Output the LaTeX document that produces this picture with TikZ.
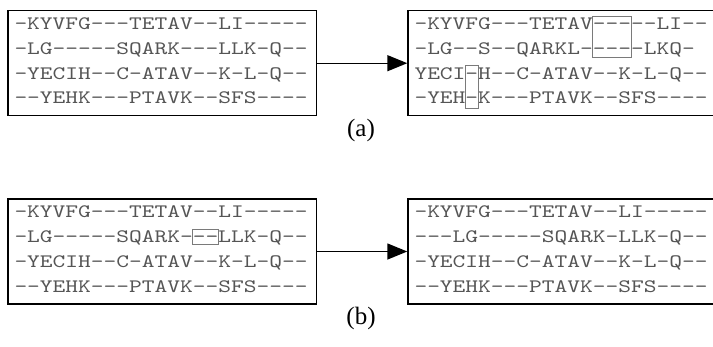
\documentclass[tikz,border=0pt]{standalone}
\usepackage{fontspec}
\usetikzlibrary{calc,arrows.meta}
\newfontfamily\capfont{Liberation Serif}
\newfontfamily\seqfont[Extension=.otf,FakeStretch=1.278]{lmmono10-regular}
\definecolor{seqgray}{HTML}{555555}
\definecolor{markgray}{HTML}{7A7A7A}
\newcommand{\cw}{12.75}
\newcommand{\rowsep}{24.8}

\tikzset{
  seqbox/.style={draw,rectangle,line width=1.4pt,anchor=north west,minimum width=308.7pt,minimum height=105pt,inner sep=0pt},
  seqrow/.style={anchor=base west,inner sep=0pt,text=seqgray,font=\seqfont\fontsize{19}{24.8}\selectfont},
  markbox/.style={draw=markgray,line width=0.8pt},
  flow/.style={-{Triangle[length=20pt,width=16pt]},line width=1.4pt},
  caption/.style={font=\capfont\fontsize{25}{28}\selectfont}
}

\begin{document}
\begin{tikzpicture}[x=1pt,y=-1pt]
\useasboundingbox (0,0) rectangle (713,346);

% (a)
\node[seqbox] (a1) at (7.3,10) {};
\node[seqrow] (a1r1) at ($(a1.north west)+(7,19.5)$) {-KYVFG---TETAV--LI-----};
\node[seqrow] (a1r2) at ($(a1r1.base west)+(0,\rowsep)$) {-LG-----SQARK---LLK-Q--};
\node[seqrow] (a1r3) at ($(a1r2.base west)+(0,\rowsep)$) {-YECIH--C-ATAV--K-L-Q--};
\node[seqrow] (a1r4) at ($(a1r3.base west)+(0,\rowsep)$) {--YEHK---PTAVK--SFS----};

\node[seqbox] (a2) at (407.3,10) {};
\node[seqrow] (a2r1) at ($(a2.north west)+(7,19.5)$) {-KYVFG---TETAV-----LI--};
\node[seqrow] (a2r2) at ($(a2r1.base west)+(0,\rowsep)$) {-LG--S--QARKL-----LKQ-};
\node[seqrow] (a2r3) at ($(a2r2.base west)+(0,\rowsep)$) {YECI-H--C-ATAV--K-L-Q--};
\node[seqrow] (a2r4) at ($(a2r3.base west)+(0,\rowsep)$) {-YEH-K---PTAVK--SFS----};
\draw[markbox] ($(a2r1.base west)+(14*\cw,-13.5)$) rectangle ($(a2r2.base west)+(17*\cw,3)$);
\draw[markbox] ($(a2r3.base west)+(4*\cw,-13.5)$) rectangle ($(a2r4.base west)+(5*\cw,4)$);

\draw[flow] (a1) -- (a2);
\node[caption] (capA) at (361,130) {(a)};

% (b)
\node[seqbox] (b1) at (7.3,198.3) {};
\node[seqrow] (b1r1) at ($(b1.north west)+(7,19.5)$) {-KYVFG---TETAV--LI-----};
\node[seqrow] (b1r2) at ($(b1r1.base west)+(0,\rowsep)$) {-LG-----SQARK---LLK-Q--};
\node[seqrow] (b1r3) at ($(b1r2.base west)+(0,\rowsep)$) {-YECIH--C-ATAV--K-L-Q--};
\node[seqrow] (b1r4) at ($(b1r3.base west)+(0,\rowsep)$) {--YEHK---PTAVK--SFS----};
\draw[markbox] ($(b1r2.base west)+(14*\cw,-13)$) rectangle ($(b1r2.base west)+(16*\cw,2)$);

\node[seqbox] (b2) at (407.3,198.3) {};
\node[seqrow] (b2r1) at ($(b2.north west)+(7,19.5)$) {-KYVFG---TETAV--LI-----};
\node[seqrow] (b2r2) at ($(b2r1.base west)+(0,\rowsep)$) {---LG-----SQARK-LLK-Q--};
\node[seqrow] (b2r3) at ($(b2r2.base west)+(0,\rowsep)$) {-YECIH--C-ATAV--K-L-Q--};
\node[seqrow] (b2r4) at ($(b2r3.base west)+(0,\rowsep)$) {--YEHK---PTAVK--SFS----};

\draw[flow] (b1) -- (b2);
\node[caption] (capB) at (361,318) {(b)};
\end{tikzpicture}
\end{document}
